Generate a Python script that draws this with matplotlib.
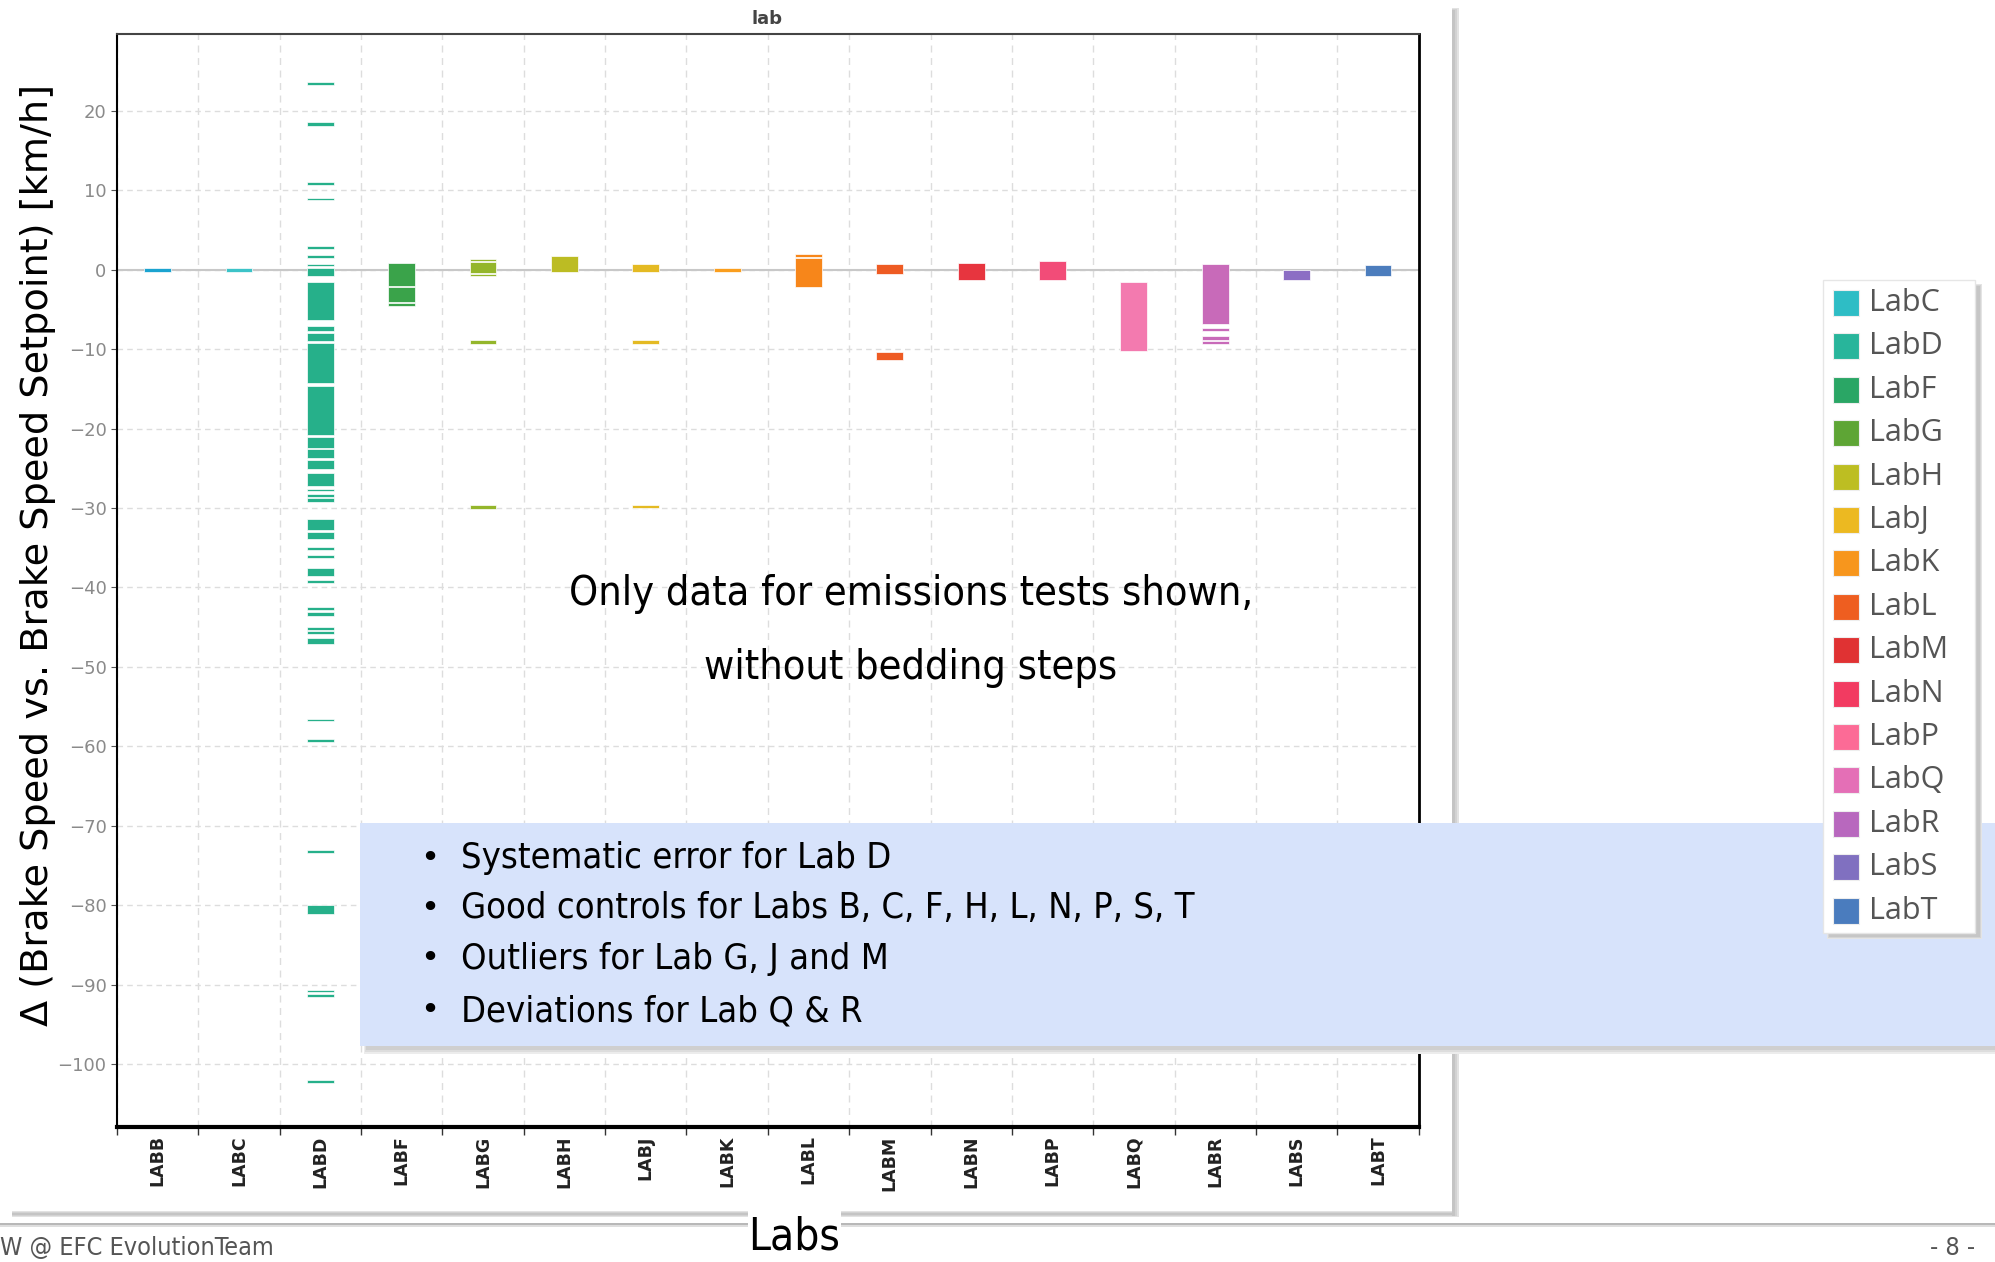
import matplotlib
matplotlib.use("Agg")
import matplotlib.pyplot as plt
import matplotlib.font_manager as fm
from matplotlib.patches import Rectangle

# labs on the x axis
labs = ['LABB', 'LABC', 'LABD', 'LABF', 'LABG', 'LABH', 'LABJ', 'LABK',
        'LABL', 'LABM', 'LABN', 'LABP', 'LABQ', 'LABR', 'LABS', 'LABT']
bar_colors = ['#1ba3d0', '#3cc3c8', '#26b08a', '#3aa34a', '#94b62b', '#bcbc23',
              '#e4ba23', '#fa9e1e', '#f7861a', '#ee5b23', '#e7353f', '#f24c78',
              '#f37aaf', '#c86ab9', '#8c6ec4', '#4c7dbd']

# (low, high) of each block, km/h
seg_B = [(-0.3, 0.2)]
seg_C = [(-0.3, 0.2)]
seg_D = [(23.2, 23.6), (18.1, 18.6), (10.7, 11.05), (8.7, 9.0), (2.65, 3.0),
         (1.5, 1.8), (0.45, 0.75), (-0.8, 0.25), (-6.4, -1.5), (-7.7, -7.1),
         (-9.0, -7.95), (-14.3, -9.2), (-20.8, -14.7), (-22.4, -21.1),
         (-23.7, -22.6), (-25.1, -24.0), (-27.2, -25.65), (-27.9, -27.6),
         (-28.6, -28.2), (-29.2, -28.7), (-32.8, -31.4), (-33.9, -33.0),
         (-35.3, -34.9), (-36.3, -35.9), (-38.6, -37.6), (-39.4, -39.0),
         (-42.8, -42.4), (-43.6, -43.1), (-45.3, -45.0), (-45.9, -45.5),
         (-47.1, -46.4), (-56.8, -56.5), (-59.4, -59.1), (-73.4, -73.0),
         (-81.1, -80.0), (-90.9, -90.6), (-91.6, -91.1), (-102.4, -102.0)]
seg_F = [(-2.1, 0.85), (-4.1, -2.2), (-4.55, -4.25)]
seg_G = [(1.07, 1.38), (-0.46, 0.97), (-0.85, -0.55), (-9.35, -8.85), (-30.1, -29.6)]
seg_H = [(-0.34, 1.65)]
seg_J = [(-0.34, 0.72), (-9.4, -8.9), (-30.0, -29.6)]
seg_K = [(-0.34, 0.21)]
seg_L = [(1.6, 1.94), (-2.24, 1.44)]
seg_M = [(-0.51, 0.72), (-11.4, -10.4)]
seg_N = [(-1.35, 0.89)]
seg_P = [(-1.35, 1.1)]
seg_Q = [(-10.27, -1.52)]
seg_R = [(-6.89, 0.72), (-7.7, -7.3), (-8.87, -8.36), (-9.42, -9.04)]
seg_S = [(-1.3, 0.0)]
seg_T = [(-0.8, 0.59)]
segments = [seg_B, seg_C, seg_D, seg_F, seg_G, seg_H, seg_J, seg_K,
            seg_L, seg_M, seg_N, seg_P, seg_Q, seg_R, seg_S, seg_T]

legend_labels = ['LabC', 'LabD', 'LabF', 'LabG', 'LabH', 'LabJ', 'LabK', 'LabL',
                 'LabM', 'LabN', 'LabP', 'LabQ', 'LabR', 'LabS', 'LabT']
legend_colors = ['#2ebdc5', '#28b59b', '#2aa665', '#5ea535', '#bdbe22', '#ecb921',
                 '#f7961d', '#ee5e20', '#e03233', '#f23b61', '#fc6b96', '#e46fb6',
                 '#b868be', '#8070c0', '#4a7cbe']

bullets = ['Systematic error for Lab D',
           'Good controls for Labs B, C, F, H, L, N, P, S, T',
           'Outliers for Lab G, J and M',
           'Deviations for Lab Q & R']

# narrow font for the slide texts, if there is one
names = {f.name for f in fm.fontManager.ttflist}
if 'Liberation Sans Narrow' in names:
    narrow, stretch = 'Liberation Sans Narrow', 'normal'
else:
    narrow, stretch = 'DejaVu Sans', 'condensed'

W, H = 1995, 1262
fig = plt.figure(figsize=(W / 100, H / 100), dpi=100)
fig.patch.set_facecolor('white')

# pixel-coordinate background axes
bg = fig.add_axes([0, 0, 1, 1], zorder=0)
bg.set_xlim(0, W)
bg.set_ylim(H, 0)
bg.axis('off')
# soft panel shadow (a few layers) + footer line
for k, c in enumerate(['#e2e2e2', '#d2d2d2', '#c4c4c4']):
    bg.add_patch(Rectangle((1452, 8 + k), 7 - 2 * k, 1206, color=c, lw=0))
    bg.add_patch(Rectangle((12, 1211 + k), 1447 - 2 * k, 6 - 2 * k, color=c, lw=0))
bg.add_patch(Rectangle((0, 1223), W, 2, color='#b8b8b8', lw=0))
bg.add_patch(Rectangle((0, 1225), W, 2, color='#dedede', lw=0))

# chart axes
ax = fig.add_axes([117 / W, 1 - 1127 / H, 1301.6 / W, 1092.6 / H], zorder=1)
for i, segs in enumerate(segments):
    lows = [s[0] for s in segs]
    hts = [s[1] - s[0] for s in segs]
    ax.bar([i] * len(segs), hts, bottom=lows, width=0.33, color=bar_colors[i],
           edgecolor='white', linewidth=0.5, zorder=3)

ax.axhline(0, color='#c8c8c8', lw=1.5, zorder=2)
ax.set_xlim(-0.5, len(labs) - 0.5)
ax.set_ylim(-107.9, 29.6)
ax.set_yticks(range(-100, 21, 10))
ax.set_xticks(range(len(labs)))
ax.set_xticklabels(labs, rotation=90, fontsize=12.5, fontweight='bold', color='#222222')
ax.set_xticks([i + 0.5 for i in range(-1, len(labs))], minor=True)
ax.tick_params(axis='x', which='major', length=0, pad=6)
ax.tick_params(axis='x', which='minor', length=6, width=1, color='#333333')
ax.tick_params(axis='y', labelsize=13, labelcolor='#8a8a8a', length=4, color='#555555')
ax.grid(axis='y', which='major', ls=(0, (4, 3)), color='#dddddd', lw=1)
ax.grid(axis='x', which='minor', ls=(0, (5, 4)), color='#dddddd', lw=1)
ax.set_axisbelow(True)
ax.spines['left'].set_linewidth(1.5)
ax.spines['bottom'].set_linewidth(3)
ax.spines['right'].set_linewidth(2)
ax.spines['top'].set_linewidth(1.5)
ax.spines['top'].set_color('#444444')

fig.text(767 / W, 1 - 19 / H, 'lab', fontsize=13, fontweight='bold', color='#444444',
         ha='center', va='center')
fig.text(38 / W, 1 - 555 / H, 'Δ (Brake Speed vs. Brake Speed Setpoint) [km/h]',
         rotation=90, fontsize=27.5, ha='center', va='center', color='black')

# overlay for the slide elements
ov = fig.add_axes([0, 0, 1, 1], zorder=2)
ov.set_xlim(0, W)
ov.set_ylim(H, 0)
ov.axis('off')
ov.patch.set_alpha(0)

renderer = fig.canvas.get_renderer()


def fit(t, width):
    w = t.get_window_extent(renderer).width
    t.set_fontsize(t.get_fontsize() * width / w)
    return t.get_fontsize()


t1 = ov.text(911, 594, 'Only data for emissions tests shown,', ha='center', va='center',
             fontsize=30, family=narrow, fontstretch=stretch)
fs = fit(t1, 684)
ov.text(911, 668, 'without bedding steps', ha='center', va='center',
        fontsize=fs, family=narrow, fontstretch=stretch)

# blue text box with soft shadow
for k, c in enumerate(['#ececec', '#dddddd', '#cfcfcf']):
    ov.add_patch(Rectangle((364 + k, 1046), W, 8 - 2 * k, color=c, lw=0))
ov.add_patch(Rectangle((360, 823), W, 223, color='#d7e3fb', lw=0))
ys = [858, 908, 959, 1011]
tb = ov.text(461, ys[1], bullets[1], ha='left', va='center', fontsize=30,
             family=narrow, fontstretch=stretch)
bfs = fit(tb, 731)
for y, b in zip(ys, bullets):
    ov.text(430, y, '•', ha='center', va='center', fontsize=bfs * 0.9)
    if b != bullets[1]:
        ov.text(461, y, b, ha='left', va='center', fontsize=bfs,
                family=narrow, fontstretch=stretch)

# legend box with shadow
for k, c in enumerate(['#e4e4e4', '#d4d4d4', '#c6c6c6']):
    ov.add_patch(Rectangle((1827 + k, 284 + k), 155 - 2 * k, 655 - 2 * k, color=c, lw=0))
ov.add_patch(Rectangle((1823, 280), 152, 653, facecolor='white', edgecolor='#e6e6e6', lw=1))
for k, (lab, col) in enumerate(zip(legend_labels, legend_colors)):
    y = 303 + k * 43.4
    ov.add_patch(Rectangle((1833, y - 13), 26, 26, facecolor=col, edgecolor='#eeeeee', lw=0.8))
    ov.text(1869, y, lab, ha='left', va='center', fontsize=22, family='Open Sans',
            color='#555555')

# footer
ov.add_patch(Rectangle((748, 1208), 93, 40, color='white', lw=0))
tl = ov.text(794, 1259, 'Labs', ha='center', va='bottom', fontsize=40,
             family=narrow, fontstretch=stretch)
fit(tl, 92)
tf = ov.text(0, 1260, 'W @ EFC EvolutionTeam', ha='left', va='bottom', fontsize=20,
             family=narrow, fontstretch=stretch, color='#555555')
fit(tf, 274)
ov.text(1953, 1260, '- 8 -', ha='center', va='bottom', fontsize=tf.get_fontsize(),
        family=narrow, fontstretch=stretch, color='#555555')

fig.savefig('out.png', dpi=100)
